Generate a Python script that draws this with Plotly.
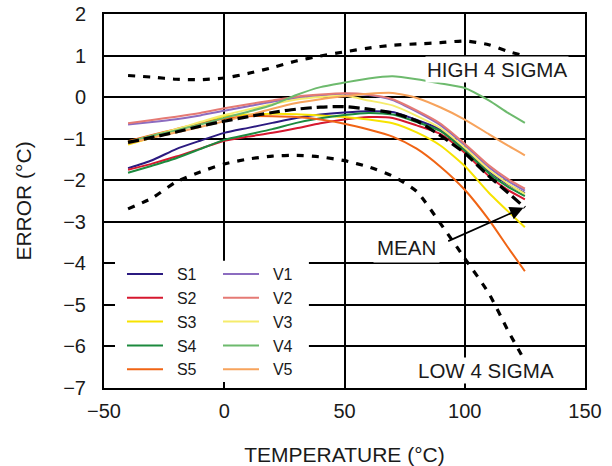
import plotly.graph_objects as go

# Temperature sample points (°C)
temp = [-40, -30, -20, -10, 0, 10, 20, 30, 40, 50, 60, 70, 80, 90, 100, 110, 118, 125]

# Error curves (°C)
s1 = [-1.71, -1.52, -1.25, -1.05, -0.86, -0.74, -0.62, -0.50, -0.42, -0.37, -0.34, -0.36, -0.55, -0.78, -1.26, -1.78, -2.10, -2.31]
s2 = [-1.75, -1.60, -1.43, -1.24, -1.05, -0.95, -0.86, -0.75, -0.63, -0.54, -0.48, -0.50, -0.68, -0.89, -1.34, -1.90, -2.24, -2.46]
s3 = [-1.14, -0.97, -0.80, -0.63, -0.46, -0.42, -0.40, -0.41, -0.44, -0.48, -0.54, -0.63, -0.85, -1.17, -1.66, -2.30, -2.75, -3.13]
s4 = [-1.82, -1.65, -1.47, -1.25, -1.03, -0.90, -0.77, -0.62, -0.51, -0.43, -0.38, -0.42, -0.60, -0.82, -1.29, -1.83, -2.16, -2.38]
s5 = [-1.06, -0.91, -0.77, -0.63, -0.52, -0.46, -0.46, -0.48, -0.54, -0.64, -0.78, -0.95, -1.24, -1.68, -2.23, -2.95, -3.62, -4.19]
v1 = [-0.66, -0.60, -0.53, -0.44, -0.33, -0.22, -0.11, -0.02, 0.04, 0.08, 0.05, -0.07, -0.35, -0.68, -1.16, -1.69, -2.02, -2.25]
v2 = [-0.63, -0.55, -0.47, -0.38, -0.27, -0.17, -0.08, 0.01, 0.06, 0.09, 0.06, -0.05, -0.32, -0.64, -1.12, -1.64, -1.97, -2.20]
v3 = [-1.10, -0.93, -0.77, -0.60, -0.43, -0.30, -0.17, -0.06, 0.00, 0.03, -0.08, -0.20, -0.45, -0.75, -1.22, -1.75, -2.08, -2.33]
v4 = [-1.08, -0.93, -0.80, -0.66, -0.50, -0.35, -0.19, 0.05, 0.24, 0.35, 0.45, 0.50, 0.43, 0.33, 0.22, -0.08, -0.38, -0.62]
v5 = [-1.12, -0.98, -0.85, -0.72, -0.58, -0.44, -0.28, -0.14, -0.05, 0.02, 0.08, 0.10, -0.02, -0.25, -0.54, -0.89, -1.17, -1.40]
mean = [-1.09, -0.97, -0.84, -0.70, -0.58, -0.47, -0.37, -0.29, -0.24, -0.23, -0.29, -0.38, -0.57, -0.93, -1.35, -1.90, -2.30, -2.66]
high4 = [0.52, 0.48, 0.43, 0.42, 0.46, 0.57, 0.71, 0.87, 0.99, 1.09, 1.18, 1.25, 1.28, 1.31, 1.35, 1.26, 1.10, 0.99]
low4 = [-2.69, -2.43, -2.04, -1.80, -1.61, -1.49, -1.42, -1.40, -1.44, -1.53, -1.68, -1.90, -2.27, -3.05, -3.88, -4.72, -5.62, -6.35]

s_names = ["S1", "S2", "S3", "S4", "S5"]
v_names = ["V1", "V2", "V3", "V4", "V5"]
s_series = [s1, s2, s3, s4, s5]
v_series = [v1, v2, v3, v4, v5]
s_colors = ["#2b1a80", "#d6182f", "#f7e300", "#1c8a3e", "#f06414"]
v_colors = ["#8c6cc0", "#e57a74", "#f5ec6c", "#6dba6d", "#f7a35c"]

FONT = "Liberation Sans, Arial, sans-serif"
INK = "#1a1a1a"
PAD = "\u00a0\u00a0"

fig = go.Figure()

for name, ys, col in zip(s_names, s_series, s_colors):
    fig.add_trace(go.Scatter(x=temp, y=ys, name=PAD + name, mode="lines",
                             line=dict(color=col, width=2, shape="spline", smoothing=0.6),
                             legend="legend"))
for name, ys, col in zip(v_names, v_series, v_colors):
    fig.add_trace(go.Scatter(x=temp, y=ys, name=PAD + name, mode="lines",
                             line=dict(color=col, width=2, shape="spline", smoothing=0.6),
                             legend="legend2"))

fig.add_trace(go.Scatter(x=temp, y=high4, mode="lines", showlegend=False,
                         line=dict(color="black", width=3.2, dash="7px,8px", shape="spline", smoothing=0.6)))
fig.add_trace(go.Scatter(x=temp, y=low4, mode="lines", showlegend=False,
                         line=dict(color="black", width=3.2, dash="7px,8px", shape="spline", smoothing=0.6)))
fig.add_trace(go.Scatter(x=temp, y=mean, mode="lines", showlegend=False,
                         line=dict(color="black", width=3.2, dash="11px,5px", shape="spline", smoothing=0.6)))

axis_common = dict(showgrid=True, gridcolor="black", gridwidth=2, zeroline=False,
                   showline=True, linecolor="black", linewidth=2, mirror=True,
                   ticks="", ticklabeloverflow="allow", automargin=False,
                   tickfont=dict(family=FONT, size=20, color=INK))

fig.update_xaxes(range=[-50, 150], dtick=50, tick0=-50,
                 title=dict(text="TEMPERATURE (°C)", font=dict(family=FONT, size=21, color=INK), standoff=26),
                 ticklabelstandoff=4, **axis_common)
fig.update_yaxes(range=[-7, 2], dtick=1, tick0=-7,
                 title=dict(text="ERROR (°C)", font=dict(family=FONT, size=21, color=INK), standoff=26),
                 ticklabelstandoff=12, **axis_common)

ann_font = dict(family=FONT, size=20.5, color=INK)
fig.add_annotation(x=113.6, y=0.675, text="HIGH 4 SIGMA", showarrow=False, font=ann_font,
                   bgcolor="white", borderpad=1)
fig.add_annotation(x=108.8, y=-6.57, text="LOW 4 SIGMA", showarrow=False, font=ann_font,
                   bgcolor="white", borderpad=1)
fig.add_annotation(x=75.9, y=-3.63, text="MEAN", showarrow=False, font=ann_font,
                   bgcolor="white", borderpad=3)
fig.add_annotation(x=124.4, y=-2.66, ax=92.5, ay=-3.48, axref="x", ayref="y", text="",
                   showarrow=True, arrowhead=2, arrowsize=1.5, arrowwidth=1.8, arrowcolor="black")

# white panel behind the two-column legend
fig.add_shape(type="rect", xref="paper", yref="paper", x0=0.0229, x1=0.426, y0=0.0158, y1=0.34,
              fillcolor="white", line=dict(width=0), layer="above")

leg_font = dict(family=FONT, size=16, color=INK)
fig.update_layout(
    width=612, height=466,
    margin=dict(l=104, r=27, t=14, b=78),
    paper_bgcolor="white", plot_bgcolor="white",
    legend=dict(x=0.0374, y=0.35, xanchor="left", yanchor="top", bgcolor="rgba(0,0,0,0)",
                font=leg_font, itemwidth=36, tracegroupgap=0),
    legend2=dict(x=0.237, y=0.35, xanchor="left", yanchor="top", bgcolor="rgba(0,0,0,0)",
                 font=leg_font, itemwidth=36, tracegroupgap=0),
)

fig.write_html("out.html", config={"displayModeBar": False},
               post_script="document.body.style.margin='0px';")
